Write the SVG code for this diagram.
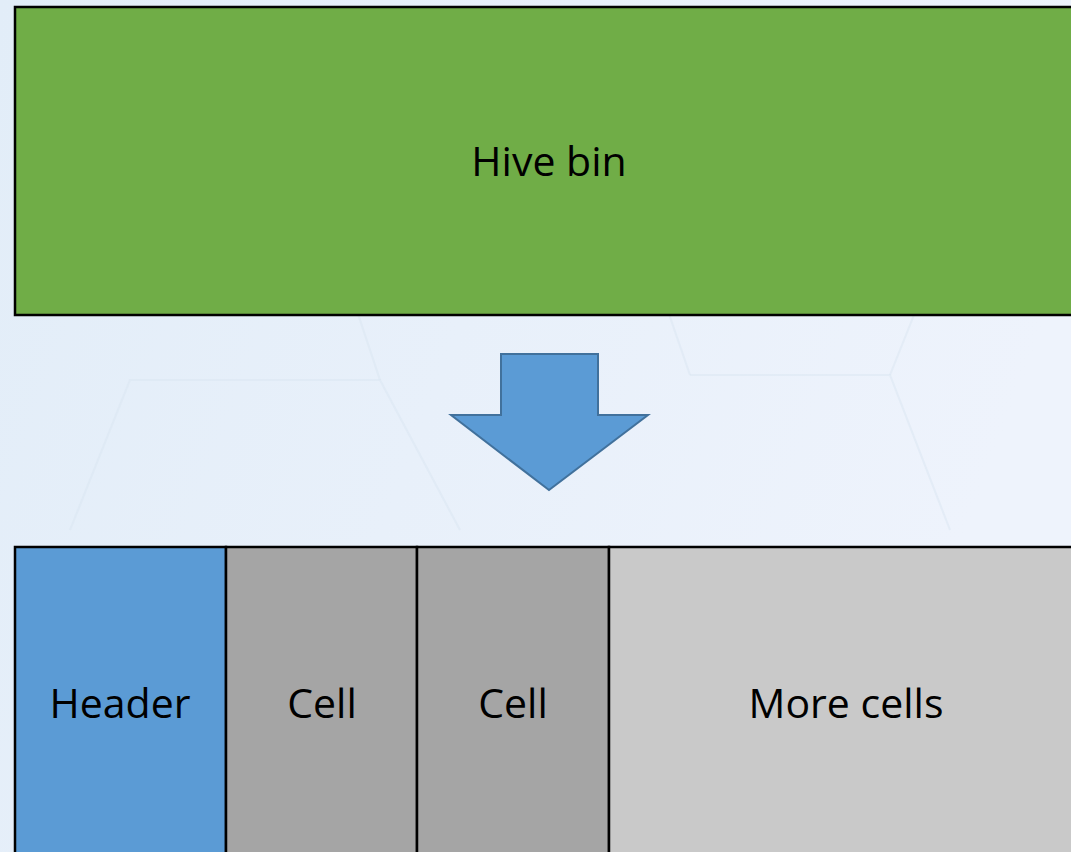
<svg xmlns="http://www.w3.org/2000/svg" width="1071" height="852" viewBox="0 0 1071 852">
<defs>
<linearGradient id="bg" x1="0" y1="0" x2="1" y2="0.3">
<stop offset="0" stop-color="#E2EDF8"/>
<stop offset="1" stop-color="#EEF3FC"/>
</linearGradient>
<style>
.box{stroke:#000;stroke-width:2.5}
.lbl{font-family:"Open Sans","Liberation Sans",sans-serif;font-size:41px;fill:#000;text-anchor:middle;dominant-baseline:central}
.hex{fill:none;stroke:#D9E5F2;stroke-width:2;opacity:0.5}
</style>
</defs>
<rect width="1071" height="852" fill="url(#bg)"/>
<g id="background-hexes">
<path class="hex" d="M70 530 L130 380 L380 380 L460 530"/>
<path class="hex" d="M380 380 L330 230 L170 230"/>
<path class="hex" d="M690 375 L890 375 L950 530"/>
<path class="hex" d="M690 375 L640 230 M890 375 L920 300"/>
</g>
<g id="hive-bin">
<rect class="box" x="15" y="7" width="1070" height="308" fill="#70AD47"/>
<text class="lbl" x="549" y="160">Hive bin</text>
</g>
<g id="connectors">
<path d="M501 354 L598 354 L598 415 L648 415 L549 490 L451 415 L501 415 Z" fill="#5B9BD5" stroke="#41719C" stroke-width="2"/>
</g>
<g id="header">
<rect class="box" x="15" y="547" width="211" height="320" fill="#5B9BD5"/>
<text class="lbl" x="120" y="702">Header</text>
</g>
<g id="cell1">
<rect class="box" x="226" y="547" width="191" height="320" fill="#A5A5A5"/>
<text class="lbl" x="322" y="702">Cell</text>
</g>
<g id="cell2">
<rect class="box" x="417" y="547" width="192" height="320" fill="#A5A5A5"/>
<text class="lbl" x="513" y="702">Cell</text>
</g>
<g id="more-cells">
<rect class="box" x="609" y="547" width="480" height="320" fill="#C9C9C9"/>
<text class="lbl" x="846" y="702">More cells</text>
</g>
</svg>
